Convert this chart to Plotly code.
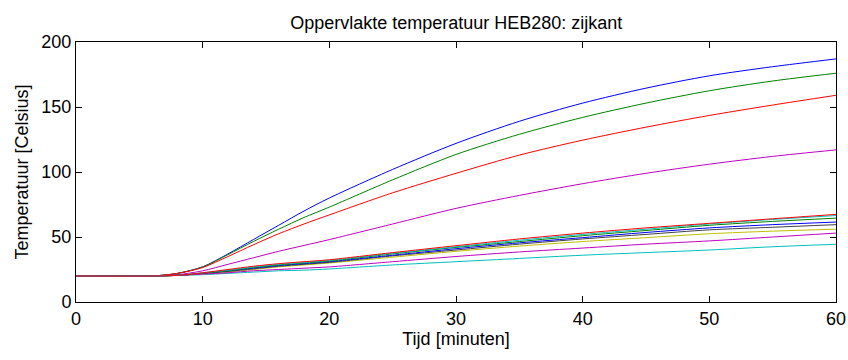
import plotly.graph_objects as go

t = [0, 6, 8, 10, 12, 14, 16, 18, 20, 25, 30, 35, 40, 45, 50, 55, 60]

# upper curves
blue_top = [20, 20, 22, 27, 37, 48, 59, 70, 80, 102, 122, 139, 153, 164.5, 174, 181, 187]
green_top = [20, 20, 22, 27, 36.5, 46.5, 56, 65, 73, 94, 113.5, 129, 142, 153, 162.5, 170, 176]
red_top = [20, 20, 22, 26.5, 35, 44, 52.5, 60, 67, 84, 99, 113, 124.5, 134.5, 143.5, 151.5, 159]
mag_top = [20, 20, 21, 24, 29, 34, 39, 43.5, 48, 60, 72, 82, 91, 99, 106, 112, 117]

# lower cluster
red_low = [20, 20, 20.5, 22.5, 25, 27.5, 29.5, 31, 32.5, 38, 43.3, 48.5, 53, 57, 60.5, 64, 67.4]
cyan_low = [20, 20, 20.5, 22.5, 24.5, 27, 29, 30.5, 32, 37.5, 42.5, 47.5, 52, 56, 60, 63.5, 66.5]
green_low = [20, 20, 20.5, 22, 24, 26.5, 28.5, 30, 31.5, 37, 42, 46.5, 51, 55, 59, 62, 64.5]
blue_low = [20, 20, 20.5, 22, 24, 26, 28, 29.5, 31, 36, 41, 45.5, 49.5, 53.5, 57, 59.5, 61.5]
black_low = [20, 20, 20.5, 22, 23.5, 25.5, 27.5, 29, 30.5, 35.5, 40, 44.5, 48.5, 52, 55.5, 57.5, 59.5]
yellow_low = [20, 20, 20.5, 21.5, 23, 25, 27, 28.5, 30, 34.5, 39, 43, 46.5, 49.5, 52.5, 54.5, 56]
mag_low = [20, 20, 20.5, 21.5, 22.5, 24, 25, 26, 27, 31, 35, 38.5, 41.5, 44.5, 47, 50, 53]
cyan_bot = [20, 20, 20.5, 21, 22, 23, 24, 24.5, 25.4, 28.5, 31, 33.5, 36, 38, 40, 42.5, 44.4]

series = [
    (blue_top, "#0000FF"),
    (green_top, "#008000"),
    (red_top, "#FF0000"),
    (cyan_bot, "#00BFBF"),
    (mag_top, "#BF00BF"),
    (yellow_low, "#BFBF00"),
    (black_low, "#404040"),
    (blue_low, "#0000FF"),
    (green_low, "#008000"),
    (mag_low, "#BF00BF"),
    (cyan_low, "#00BFBF"),
    (red_low, "#FF0000"),
]

FONT = "Liberation Sans, Arial, sans-serif"

fig = go.Figure()
for ys, col in series:
    fig.add_trace(go.Scatter(x=t, y=ys, mode="lines",
                             line=dict(color=col, width=1, shape="spline", smoothing=0.8),
                             showlegend=False, hoverinfo="skip"))

axis_common = dict(
    showgrid=False, zeroline=False, showline=True, linecolor="#000000", linewidth=1,
    mirror="ticks", ticks="inside", ticklen=6, tickcolor="#000000", automargin=False,
    tickfont=dict(family=FONT, size=18, color="#000000"),
)

fig.update_layout(
    width=848, height=360,
    margin=dict(l=76, r=12, t=42, b=58),
    paper_bgcolor="white", plot_bgcolor="white",
    title=dict(text="Oppervlakte temperatuur HEB280: zijkant", x=0.538, xanchor="center",
               y=0.938, yanchor="middle",
               font=dict(family=FONT, size=18, color="#000000")),
    xaxis=dict(range=[0, 60], tickvals=[0, 10, 20, 30, 40, 50, 60],
               title=dict(text="Tijd [minuten]", standoff=4,
                          font=dict(family=FONT, size=18, color="#000000")),
               **axis_common),
    yaxis=dict(range=[0, 200], tickvals=[0, 50, 100, 150, 200],
               title=dict(text="Temperatuur [Celsius]", standoff=8,
                          font=dict(family=FONT, size=18, color="#000000")),
               **axis_common),
)

fig.write_html("out.html")
